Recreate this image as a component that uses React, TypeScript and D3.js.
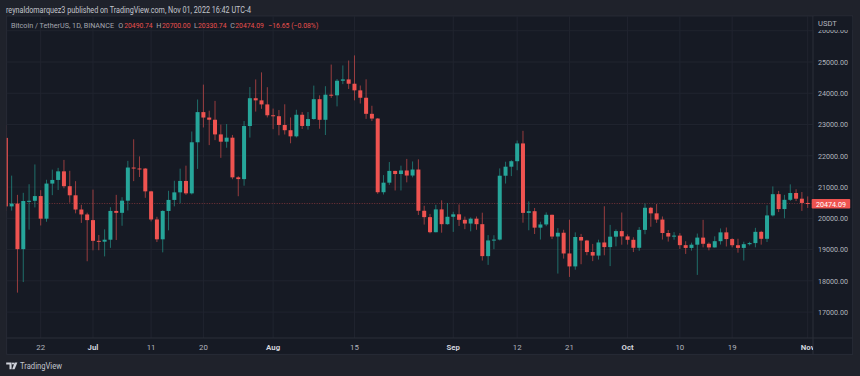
import React from "react";
import * as d3 from "d3";

// ---- Data (BTC/USDT 1D, Binance) Jun 16 2022 .. Nov 1 2022 ----
const startDate = "2022-06-16";
const opens = [
  22572, 20381, 20471, 19013, 20553, 20560, 20711, 19988, 21111, 21227, 21502, 21027, 20736, 20281, 20123,
  19942, 19279, 19252, 19315, 20236, 20175, 20564, 21624, 21594, 21591, 20862, 19963, 19328, 20235, 20588, 20830, 21195, 20798, 22432, 23397, 23223, 23153, 22684, 22451, 22579, 21310, 21254, 22952, 23842, 23773, 23643,
  23296, 23266, 22985, 22818, 22622, 23312, 22954, 23175, 23810, 23151, 23954, 23934, 24401, 24443, 24305, 24093, 23856, 23342, 23191, 20834, 21140, 21516, 21416, 21529, 21368, 21560, 20241, 20037, 19555, 20285, 19812,
  20049, 20127, 19952, 19832, 19988, 19812, 18790, 19292, 19319, 21362, 21651, 21826, 22395, 20173, 20227, 19701, 19803, 20112, 19417, 19538, 18875, 18461, 19402, 19289, 18921, 18807, 19227, 19079, 19412, 19591,
  19422, 19312, 19057, 19629, 20337, 20158, 19960, 19530, 19416, 19446, 19141, 19052, 19156, 19382, 19185, 19068, 19268, 19550, 19335, 19139, 19053, 19172, 19207, 19567, 19344, 20092, 20772, 20295, 20591, 20809, 20627,
  20490.74,
];
const highs = [
  22980, 21365, 20750, 20815, 21090, 21723, 20900, 21233, 21558, 21614, 21868, 21520, 21188, 20432, 20179,
  20918, 19467, 19647, 20354, 20750, 20675, 21838, 22527, 21980, 21607, 20880, 20049, 20259, 20880, 21200, 21588, 21684, 22777, 23800, 24276, 23442, 23756, 22998, 23014, 22666, 21347, 23112, 24199, 24442, 24668, 24194,
  23510, 23463, 23647, 23226, 23472, 23398, 23400, 24245, 23933, 24226, 24918, 24456, 24890, 25047, 25211, 24247, 24446, 23600, 23208, 21382, 21800, 21521, 21684, 21900, 21819, 21886, 20402, 20141, 20432, 20575, 20490,
  20208, 20444, 20055, 20029, 20058, 20180, 19463, 19458, 21597, 21810, 21860, 22488, 22799, 20541, 20330, 19890, 20189, 20117, 19686, 19634, 19956, 19550, 19500, 19310, 19180, 19316, 20385, 19790, 19645, 20185,
  19484, 19395, 19719, 20475, 20365, 20456, 20059, 19627, 19558, 19525, 19266, 19221, 19513, 19951, 19227, 19424, 19676, 19706, 19361, 19345, 19250, 19248, 19695, 19601, 20415, 21020, 20876, 20750, 21085, 20930, 20840,
  20700.0,
];
const lows = [
  20232, 20246, 17622, 17960, 19637, 20348, 19770, 19890, 20740, 20906, 20960, 20500, 20159, 19854, 18626,
  18975, 18978, 18781, 19055, 19304, 19761, 20251, 21189, 21322, 20655, 19900, 19240, 18910, 19616, 20382, 20478, 20750, 20762, 21581, 22906, 22341, 22500, 21934, 22257, 21250, 20706, 21043, 22582, 23414, 23502, 23227,
  22850, 22654, 22681, 22400, 22586, 22856, 22836, 23154, 22865, 22664, 23852, 23580, 24292, 24138, 23773, 23671, 23180, 23111, 20783, 20761, 21069, 20890, 20890, 21150, 21310, 20107, 19800, 19520, 19550, 19540, 19797,
  19565, 19755, 19652, 19583, 19633, 18649, 18510, 19011, 19291, 21111, 21350, 21538, 19860, 19617, 19497, 19320, 19748, 19335, 18232, 18711, 18125, 18356, 18531, 18817, 18630, 18680, 18816, 18471, 19102, 19155,
  19159, 18920, 18959, 19490, 19730, 19853, 19320, 19255, 19316, 19020, 18860, 18965, 18190, 19070, 18975, 19063, 19160, 19098, 19071, 18900, 18650, 19132, 19071, 19157, 19242, 20058, 20200, 20000, 20552, 20550, 20237,
  20330.74,
];
const closes = [
  20381, 20471, 19013, 20553, 20560, 20711, 19988, 21111, 21227, 21502, 21027, 20736, 20281, 20123, 19942,
  19279, 19252, 19315, 20236, 20175, 20564, 21624, 21594, 21591, 20862, 19963, 19328, 20235, 20588, 20830, 21195, 20798, 22432, 23397, 23223, 23153, 22684, 22451, 22579, 21310, 21254, 22952, 23842, 23773, 23643, 23296,
  23266, 22985, 22818, 22622, 23312, 22954, 23175, 23810, 23151, 23954, 23934, 24401, 24443, 24305, 24093, 23856, 23342, 23191, 20834, 21140, 21516, 21416, 21529, 21368, 21560, 20241, 20037, 19555, 20285, 19812, 20049,
  20127, 19952, 19832, 19988, 19812, 18790, 19292, 19319, 21362, 21651, 21826, 22395, 20173, 20227, 19701, 19803, 20112, 19417, 19538, 18875, 18461, 19402, 19289, 18921, 18807, 19227, 19079, 19412, 19591, 19422,
  19312, 19057, 19629, 20337, 20158, 19960, 19530, 19416, 19446, 19141, 19052, 19156, 19382, 19185, 19068, 19268, 19550, 19335, 19139, 19053, 19172, 19207, 19567, 19344, 20092, 20772, 20295, 20591, 20809, 20627, 20491,
  20474.09,
];
const priceTicks = [17000, 18000, 19000, 20000, 21000, 22000, 23000, 24000, 25000, 26000];
const timeTickDates = ["2022-06-22", "2022-07-01", "2022-07-11", "2022-07-20", "2022-08-01", "2022-08-15", "2022-09-01", "2022-09-12", "2022-09-21", "2022-10-01", "2022-10-10", "2022-10-19", "2022-11-01"];
const timeTickLabels = ["22", "Jul", "11", "20", "Aug", "15", "Sep", "12", "21", "Oct", "10", "19", "Nov"];
const monthLabels = ["Jul", "Aug", "Sep", "Oct", "Nov"];
const headerText = "reynaldomarquez3 published on TradingView.com, Nov 01, 2022 16:42 UTC-4";
const symbolText = "Bitcoin / TetherUS, 1D, BINANCE";
const ohlcLabels = ["O", "H", "L", "C"];
const ohlcValues = ["20490.74", "20700.00", "20330.74", "20474.09"];
const changeText = "\u221216.65 (\u22120.08%)";
const lastPrice = 20474.09;

// ---- Layout ----
const W = 860, H = 376;
const panel = { x0: 6.7, y0: 16, x1: 852.7, y1: 354.3 };
const axisX = 813; // price axis separator
const axisY = 338; // time axis separator
const UP = "#26a69a", DOWN = "#ef5350";
const FONT = "Roboto, 'Open Sans', 'DejaVu Sans', sans-serif";

const parse = d3.utcParse("%Y-%m-%d");

export default function App() {
  const start = parse(startDate)!;
  const dates = opens.map((_, i) => d3.utcDay.offset(start, i));
  const x = d3.scaleUtc().domain([parse("2022-06-22")!, parse("2022-11-01")!]).range([40.7, 807.7]);
  const y = d3.scaleLinear().domain([20000, 25000]).range([218.3, 62]);
  const bw = 4;

  const ohlcX = [118.2, 156.3, 194, 230.3];
  const valX = [124.2, 162, 198, 235.3];

  return (
    <svg width={W} height={H} style={{ position: "absolute", left: 0, top: 0 }} fontFamily={FONT}>
      <defs>
        <clipPath id="plot">
          <rect x={panel.x0} y={panel.y0} width={axisX - panel.x0} height={axisY - panel.y0} />
        </clipPath>
        <clipPath id="taxis">
          <rect x={panel.x0} y={axisY} width={axisX - panel.x0} height={panel.y1 - axisY} />
        </clipPath>
      </defs>
      <rect x={0} y={0} width={W} height={H} fill="#1f222b" />
      <text x={6} y={12.8} fontSize={8.2} fill="#c3c6ce" textLength={245} lengthAdjust="spacingAndGlyphs">{headerText}</text>

      <rect x={panel.x0} y={panel.y0} width={panel.x1 - panel.x0} height={panel.y1 - panel.y0} fill="#161a24" stroke="#2a2e39" strokeWidth={0.8} />

      {/* grid */}
      <g clipPath="url(#plot)">
        {priceTicks.map((p) => (
          <line key={p} x1={panel.x0} x2={axisX} y1={y(p)} y2={y(p)} stroke="#20242f" strokeWidth={1} />
        ))}
        {timeTickDates.map((d) => (
          <line key={d} x1={x(parse(d)!)} x2={x(parse(d)!)} y1={panel.y0} y2={axisY} stroke="#20242f" strokeWidth={1} />
        ))}
      </g>

      {/* candles */}
      <g clipPath="url(#plot)">
        <line x1={panel.x0} x2={axisX} y1={y(lastPrice)} y2={y(lastPrice)} stroke={DOWN} strokeOpacity={0.45} strokeWidth={1} strokeDasharray="1 1.5" />
        {dates.map((d, i) => {
          const o = opens[i], c = closes[i], hi = highs[i], lo = lows[i];
          const col = c >= o ? UP : DOWN;
          const cx = x(d);
          const top = y(Math.max(o, c));
          const h = Math.max(1, y(Math.min(o, c)) - top);
          return (
            <g key={i}>
              <line x1={cx} x2={cx} y1={y(hi)} y2={y(lo)} stroke={col} strokeOpacity={0.6} strokeWidth={1} />
              <rect x={cx - bw / 2} y={top} width={bw} height={h} fill={col} />
            </g>
          );
        })}
      </g>

      {/* axes separators */}
      <line x1={axisX} x2={axisX} y1={panel.y0} y2={panel.y1} stroke="#2a2e39" strokeWidth={1} />
      <line x1={panel.x0} x2={panel.x1} y1={axisY} y2={axisY} stroke="#2a2e39" strokeWidth={1} />

      {/* symbol line */}
      <text x={11} y={27.6} fontSize={7} fill="#a3a6af" textLength={103} lengthAdjust="spacingAndGlyphs">{symbolText}</text>
      {ohlcLabels.map((l, i) => (
        <g key={l}>
          <text x={ohlcX[i]} y={27.6} fontSize={7.2} fill="#a3a6af">{l}</text>
          <text x={valX[i]} y={27.6} fontSize={8} fill="#e8504d" textLength={28.5} lengthAdjust="spacingAndGlyphs">{ohlcValues[i]}</text>
        </g>
      ))}
      <text x={268.3} y={27.6} fontSize={8} fill="#e8504d" textLength={50} lengthAdjust="spacingAndGlyphs">{changeText}</text>

      {/* price axis */}
      {priceTicks.map((p) => (
        <text key={p} x={818} y={y(p)} dy="0.35em" fontSize={7.8} fill="#b2b5be" textLength={30} lengthAdjust="spacingAndGlyphs">
          {d3.format(".2f")(p)}
        </text>
      ))}
      <rect x={axisX + 0.5} y={panel.y0 + 0.5} width={panel.x1 - axisX - 1} height={13.5} fill="#161a24" />
      <text x={818} y={23.5} dy="0.35em" fontSize={7.6} fill="#b2b5be">USDT</text>
      <rect x={811.7} y={199} width={38.5} height={9.5} fill="#ef5350" rx={0.8} />
      <text x={816} y={203.9} dy="0.35em" fontSize={7.8} fill="#ffffff" textLength={30} lengthAdjust="spacingAndGlyphs">
        {d3.format(".2f")(lastPrice)}
      </text>

      {/* time axis */}
      <g clipPath="url(#taxis)">
        {timeTickDates.map((d, i) => {
          const isMonth = monthLabels.includes(timeTickLabels[i]);
          return (
            <text key={d} x={x(parse(d)!)} y={347} dy="0.35em" textAnchor="middle" fontSize={7.8}
              fontWeight={isMonth ? 700 : 400} fill={isMonth ? "#d1d4dc" : "#b2b5be"}>
              {timeTickLabels[i]}
            </text>
          );
        })}
      </g>

      {/* footer logo */}
      <g fill="#d1d4dc">
        <path d="M6.2 362.4 H11.6 V369.2 H9.5 V364.5 H6.2 Z" />
        <circle cx={13} cy={363.5} r={1.1} />
        <path d="M14.6 362.4 H17.4 L14.6 369.2 H12.2 Z" />
      </g>
      <text x={20} y={368.6} fontSize={8.2} fill="#c3c6ce" textLength={42} lengthAdjust="spacingAndGlyphs">TradingView</text>
    </svg>
  );
}
